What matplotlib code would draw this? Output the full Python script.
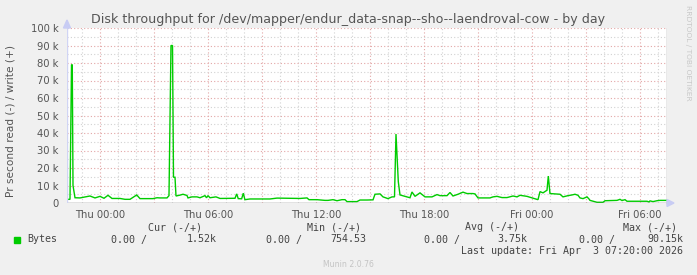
import matplotlib
matplotlib.use("Agg")
import matplotlib.pyplot as plt
from matplotlib.patches import Polygon
import numpy as np

# ---- data (hours relative to Thu 00:00, values in k bytes/s) ----
hours = [-1.833, -1.667, -1.583, -1.54, -1.5, -1.389, -1.111, -0.556, -0.278, 0.0,
         0.222, 0.444, 0.667, 1.111, 1.389, 1.667, 2.04, 2.222, 2.944, 3.167,
         3.333, 3.722, 3.833, 3.944, 4.028, 4.083, 4.167, 4.222, 4.444, 4.611,
         4.833, 4.889, 5.111, 5.389, 5.556, 5.833, 5.917, 6.0, 6.111, 6.444,
         6.667, 7.5, 7.594, 7.68, 7.87, 7.96, 8.05, 8.333, 9.444, 9.833,
         10.556, 11.111, 11.5, 11.611, 12.056, 12.5, 12.667, 12.944, 13.167, 13.444,
         13.611, 13.722, 14.278, 14.444, 14.833, 15.167, 15.278, 15.556, 15.722, 16.0,
         16.222, 16.361, 16.444, 16.572, 16.667, 17.222, 17.333, 17.5, 17.778, 18.056,
         18.444, 18.722, 18.889, 19.278, 19.444, 19.611, 19.889, 20.167, 20.389, 20.722,
         20.833, 21.0, 21.667, 21.833, 22.056, 22.333, 22.611, 22.944, 23.167, 23.333,
         23.722, 24.333, 24.444, 24.611, 24.833, 24.906, 25.0, 25.556, 25.722, 26.0,
         26.222, 26.389, 26.556, 26.667, 26.833, 27.056, 27.167, 27.222, 27.611, 27.944,
         28.056, 28.722, 28.889, 29.0, 29.167, 29.278, 30.389, 30.5, 30.556, 30.722,
         30.944, 31.111, 31.5]
values = [2.1, 2.1, 79.0, 79.0, 10.0, 3.0, 2.9, 4.0, 2.9, 3.8,
          2.7, 4.4, 2.6, 2.6, 2.1, 2.1, 4.6, 2.5, 2.5, 3.0,
          2.9, 2.9, 4.2, 90.0, 90.0, 14.7, 14.7, 4.0, 4.5, 5.0,
          4.3, 2.9, 3.5, 3.5, 3.0, 4.2, 3.0, 4.2, 3.0, 3.5,
          2.6, 2.7, 5.2, 2.5, 2.4, 5.6, 1.9, 2.3, 2.3, 2.8,
          2.7, 2.6, 2.9, 1.9, 1.9, 1.5, 1.5, 1.9, 1.3, 1.9,
          1.9, 0.8, 0.8, 1.7, 1.7, 1.8, 5.0, 5.2, 3.5, 2.5,
          3.5, 3.5, 39.4, 12.2, 4.6, 3.0, 6.3, 3.8, 5.8, 3.5,
          3.5, 4.8, 4.2, 4.2, 6.0, 4.0, 5.0, 6.2, 5.4, 5.4,
          5.2, 2.9, 2.9, 3.5, 3.8, 3.1, 3.1, 4.0, 3.5, 4.4,
          3.8, 1.9, 6.5, 5.8, 7.3, 15.4, 5.4, 5.0, 3.5, 4.2,
          4.6, 5.0, 4.4, 2.9, 2.5, 3.5, 2.3, 1.5, 0.4, 0.4,
          1.3, 1.5, 2.1, 1.4, 1.9, 1.0, 1.0, 0.6, 1.2, 0.8,
          1.3, 1.5, 1.5]

y_ticks = [0, 10, 20, 30, 40, 50, 60, 70, 80, 90, 100]
y_labels = ["0", "10 k", "20 k", "30 k", "40 k", "50 k", "60 k", "70 k", "80 k", "90 k", "100 k"]
x_ticks = [0, 6, 12, 18, 24, 30]
x_labels = ["Thu 00:00", "Thu 06:00", "Thu 12:00", "Thu 18:00", "Fri 00:00", "Fri 06:00"]

title = "Disk throughput for /dev/mapper/endur_data-snap--sho--laendroval-cow - by day"
ylabel = "Pr second read (-) / write (+)"
series_name = "Bytes"
cur_vals = ("0.00", "1.52k")
min_vals = ("0.00", "754.53")
avg_vals = ("0.00", "3.75k")
max_vals = ("0.00", "90.15k")
last_update = "Last update: Fri Apr  3 07:20:00 2026"

W, H = 697, 275
fig = plt.figure(figsize=(W / 100, H / 100), dpi=100, facecolor="#F0F0F0")

x0, x1 = -1.8333, 31.5
L, R, T, B = 67, 667, 28, 203
ax = fig.add_axes([L / W, 1 - B / H, (R - L) / W, (B - T) / H])
ax.set_facecolor("white")
ax.set_xlim(x0, x1)
ax.set_ylim(0, 100)

# grid
for h in np.arange(-1, 32, 1):
    major = (h % 3 == 0)
    ax.axvline(h, color="#E3A6A6" if major else "#D2D2D2", lw=0.8,
               ls=(0, (1, 2)), zorder=1)
for v in range(5, 101, 5):
    major = (v % 10 == 0)
    ax.axhline(v, color="#E3A6A6" if major else "#D2D2D2", lw=0.8,
               ls=(0, (1, 2)), zorder=1)

ax.plot(hours, values, color="#00CC00", lw=1.0, zorder=3, solid_joinstyle="miter")

for s in ax.spines.values():
    s.set_visible(False)
ax.axvline(x1, color="#909090", lw=1.0, zorder=4)
ax.axhline(0, color="#707070", lw=1.0, zorder=4)
ax.axvline(x0, color="#D0D4F4", lw=1.0, zorder=4)

ax.set_yticks(y_ticks)
ax.set_yticklabels(y_labels)
ax.set_xticks(x_ticks)
ax.set_xticklabels(x_labels)
ax.tick_params(axis="both", length=0, labelsize=7.2, labelcolor="#555555")
ax.tick_params(axis="y", pad=6)
ax.tick_params(axis="x", pad=5)

# arrows (figure pixel coords)
def fx(px):
    return px / W
def fy(py):
    return 1 - py / H
arrow_col = "#C8CCF4"
fig.patches.append(Polygon([[fx(63.5), fy(28)], [fx(70.5), fy(28)], [fx(67), fy(20)]],
                           closed=True, transform=fig.transFigure, color=arrow_col, zorder=5))
fig.patches.append(Polygon([[fx(667), fy(199.5)], [fx(667), fy(206.5)], [fx(674), fy(203)]],
                           closed=True, transform=fig.transFigure, color=arrow_col, zorder=5))
fig.lines.append(plt.Line2D([fx(667), fx(668)], [fy(203), fy(203)], transform=fig.transFigure,
                            color="#707070", lw=1))

txtcol = "#555555"
fig.text(fx(348.5), fy(19), title, ha="center", va="center", fontsize=9.05, color=txtcol,
         family="DejaVu Sans")
fig.text(fx(10.5), fy(121), ylabel, ha="center", va="center", rotation=90,
         fontsize=7.6, color=txtcol)
fig.text(fx(688), fy(5), "RRDTOOL / TOBI OETIKER", ha="center", va="top", rotation=270,
         fontsize=5.4, color="#C8C8C8")

mono = dict(family="DejaVu Sans Mono", fontsize=7.2, color="#444444", va="center")
fig.text(fx(148), fy(227.5), "Cur (-/+)", ha="left", **mono)
fig.text(fx(307), fy(227.5), "Min (-/+)", ha="left", **mono)
fig.text(fx(465), fy(227.5), "Avg (-/+)", ha="left", **mono)
fig.text(fx(623), fy(227.5), "Max (-/+)", ha="left", **mono)

fig.patches.append(plt.Rectangle((fx(14), fy(243)), 6 / W, 6 / H, transform=fig.transFigure,
                                 color="#00CC00"))
fig.text(fx(27), fy(239.5), series_name, ha="left", **mono)
cols = [(cur_vals, 147, 217), (min_vals, 302, 366), (avg_vals, 460, 527), (max_vals, 615, 683)]
for (a, b), xa, xb in cols:
    fig.text(fx(xa), fy(239.5), a + " /", ha="right", **mono)
    fig.text(fx(xb), fy(239.5), b, ha="right", **mono)
fig.text(fx(683), fy(251.5), last_update, ha="right", **mono)
fig.text(fx(348), fy(264.5), "Munin 2.0.76", ha="center", va="center", fontsize=5.6,
         color="#C4C4C4")

fig.savefig("out.png", dpi=100, facecolor=fig.get_facecolor())
